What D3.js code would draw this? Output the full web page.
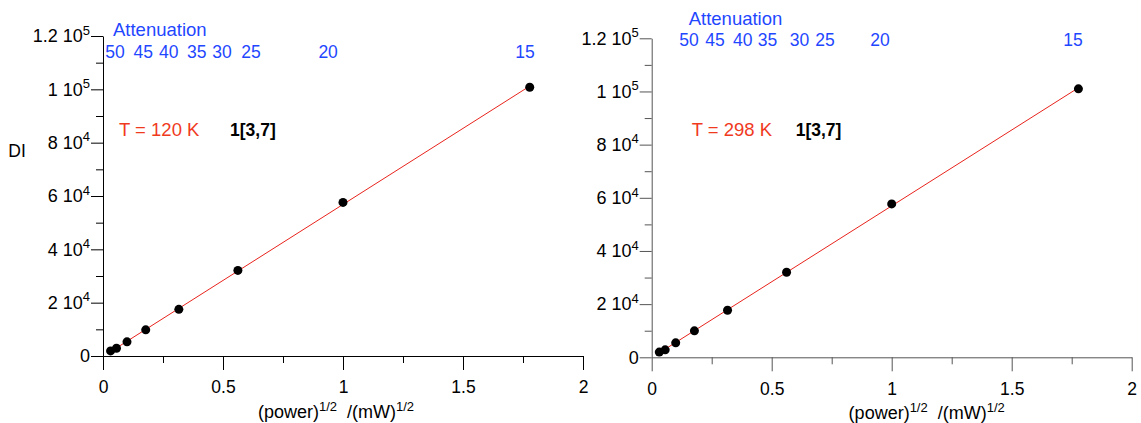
<!DOCTYPE html>
<html>
<head>
<meta charset="utf-8">
<script src="https://cdn.jsdelivr.net/npm/d3@7"></script>
<style>
  body { margin: 0; background: #fff; }
  svg text { font-family: "Liberation Sans", Arial, Helvetica, sans-serif; }
</style>
</head>
<body>
<div id="chart"></div>
<script>
// values
const rootPower = [0.0316, 0.0562, 0.1, 0.178, 0.316, 0.562, 1.0, 1.778];
const diCold = [1900, 2900, 5300, 9800, 17500, 32100, 57600, 100800];
const diWarm = [1950, 2800, 5450, 9950, 17700, 32000, 57700, 101000];
const attenuation = [50, 45, 40, 35, 30, 25, 20, 15];
// where the attenuation labels sit, in units of the bottom axis
const attenAtCold = [0.05, 0.168, 0.274, 0.391, 0.496, 0.617, 0.938, 1.758];
const attenAtWarm = [0.155, 0.264, 0.379, 0.483, 0.616, 0.722, 0.951, 1.755];
const xTicks = [0, 0.5, 1, 1.5, 2];
const xMinor = [0.25, 0.75, 1.25, 1.75];
const yTicks = [0, 20000, 40000, 60000, 80000, 100000, 120000];
const yMinor = [10000, 30000, 50000, 70000, 90000, 110000];
const tempLabels = ["T = 120 K", "T = 298 K"];
const compound = "1[3,7]";

const W = 1141, H = 423;
const svg = d3.select("#chart").append("svg")
    .attr("width", W).attr("height", H);

const panels = [
  { data: diCold, atten: attenAtCold, temp: tempLabels[0], left: 103, top: 36, w: 480, h: 320,
    axisColor: "#000", attTitle: [10, -0.5], attNums: 21.5, tempPos: [16, 100], compPos: [127, 100],
    title: [233, 382], yLabel: true },
  { data: diWarm, atten: attenAtWarm, temp: tempLabels[1], left: 651.7, top: 38.3, w: 480, h: 319,
    axisColor: "#555", attTitle: [37, -13.5], attNums: 7.5, tempPos: [40, 97.7], compPos: [144, 97.7],
    title: [275, 381], yLabel: false }
];

function sciFormat(sel) {
  sel.each(function (d) {
    const t = d3.select(this).text(null);
    if (d === 0) { t.text("0"); return; }
    const e = Math.floor(Math.log10(d));
    const m = +(d / Math.pow(10, e)).toFixed(2);
    t.append("tspan").text(m + " 10");
    t.append("tspan").attr("font-size", 13).attr("dy", -7.5).text(e);
  });
}

panels.forEach(p => {
  const g = svg.append("g").attr("transform", `translate(${p.left},${p.top})`);

  const x = d3.scaleLinear().domain([0, 2]).range([0, p.w]);
  const y = d3.scaleLinear().domain([0, 120000]).range([p.h, 0]);

  // minor ticks first
  g.append("g").attr("transform", `translate(0,${p.h})`)
    .call(d3.axisBottom(x).tickValues(xMinor).tickSize(7).tickFormat(""))
    .call(a => a.select(".domain").remove());
  g.append("g")
    .call(d3.axisLeft(y).tickValues(yMinor).tickSize(7).tickFormat(""))
    .call(a => a.select(".domain").remove());

  const xa = g.append("g").attr("transform", `translate(0,${p.h})`)
    .call(d3.axisBottom(x).tickValues(xTicks).tickSize(14).tickSizeOuter(0).tickPadding(11)
      .tickFormat(d3.format("")));
  const ya = g.append("g")
    .call(d3.axisLeft(y).tickValues(yTicks).tickSize(12).tickSizeOuter(0).tickPadding(1));
  ya.selectAll(".tick text").call(sciFormat);

  xa.attr("font-size", 17.5).attr("font-family", null);
  ya.attr("font-size", 18).attr("font-family", null);
  g.selectAll(".tick text").attr("fill", "#000");
  g.selectAll(".domain, .tick line").attr("stroke", p.axisColor);

  // linear fit through the points
  const n = rootPower.length;
  const mx = d3.mean(rootPower), my = d3.mean(p.data);
  const sxy = d3.sum(rootPower, (v, i) => (v - mx) * (p.data[i] - my));
  const sxx = d3.sum(rootPower, v => (v - mx) * (v - mx));
  const slope = sxy / sxx, icpt = my - slope * mx;
  const fitX = [rootPower[0], rootPower[n - 1]];
  g.append("path")
    .datum(fitX)
    .attr("fill", "none")
    .attr("stroke", "#e8231c")
    .attr("stroke-width", 1)
    .attr("d", d3.line().x(d => x(d)).y(d => y(slope * d + icpt)));

  g.selectAll("circle.pt")
    .data(rootPower.map((v, i) => [v, p.data[i]]))
    .join("circle")
    .attr("class", "pt")
    .attr("cx", d => x(d[0]))
    .attr("cy", d => y(d[1]))
    .attr("r", 4.5)
    .attr("fill", "#000");

  // attenuation labels along the top
  g.append("text")
    .attr("x", p.attTitle[0]).attr("y", p.attTitle[1])
    .attr("fill", "#1f47ff").attr("font-size", 18.5)
    .text("Attenuation");
  g.selectAll("text.att")
    .data(attenuation.map((a, i) => [a, p.atten[i]]))
    .join("text")
    .attr("class", "att")
    .attr("x", d => x(d[1])).attr("y", p.attNums)
    .attr("text-anchor", "middle")
    .attr("fill", "#1f47ff").attr("font-size", 17.5)
    .text(d => d[0]);

  g.append("text")
    .attr("x", p.tempPos[0]).attr("y", p.tempPos[1])
    .attr("fill", "#f03a1e").attr("font-size", 18.5)
    .text(p.temp);
  g.append("text")
    .attr("x", p.compPos[0]).attr("y", p.compPos[1])
    .attr("font-weight", "bold").attr("font-size", 17.5)
    .text(compound);

  // x-axis title
  const tt = g.append("text")
    .attr("x", p.title[0]).attr("y", p.title[1])
    .attr("text-anchor", "middle").attr("font-size", 18);
  tt.append("tspan").text("(power)");
  tt.append("tspan").attr("font-size", 13).attr("dy", -7.5).text("1/2");
  tt.append("tspan").attr("dy", 7.5).text("\u00a0 /(mW)");
  tt.append("tspan").attr("font-size", 13).attr("dy", -7.5).text("1/2");

  if (p.yLabel) {
    svg.append("text")
      .attr("x", 17).attr("y", 157)
      .attr("text-anchor", "middle").attr("font-size", 17.5)
      .text("DI");
  }
});
</script>
</body>
</html>
